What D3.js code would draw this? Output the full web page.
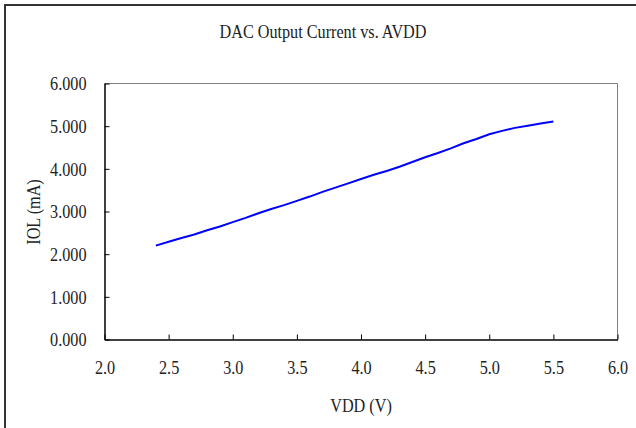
<!DOCTYPE html>
<html><head><meta charset="utf-8">
<script src="https://cdn.jsdelivr.net/npm/d3@7"></script>
<style>body{margin:0;background:#fff}svg{display:block}text{font-family:"Liberation Serif","Times New Roman",serif;fill:#222}</style>
</head><body><svg id="c" width="636" height="428"></svg>
<script>
const vdd = [2.4,2.5,2.6,2.7,2.8,2.9,3.0,3.1,3.2,3.3,3.4,3.5,3.6,3.7,3.8,3.9,4.0,4.1,4.2,4.3,4.4,4.5,4.6,4.7,4.8,4.9,5.0,5.1,5.2,5.3,5.4,5.5];
const iol = [2.20,2.29,2.38,2.46,2.56,2.65,2.75,2.85,2.96,3.06,3.15,3.25,3.35,3.46,3.56,3.66,3.76,3.86,3.95,4.05,4.16,4.27,4.37,4.48,4.60,4.70,4.81,4.89,4.96,5.01,5.06,5.11];
const xTicks = [2.0,2.5,3.0,3.5,4.0,4.5,5.0,5.5,6.0];
const yTicks = [0,1,2,3,4,5,6];
const title = "DAC Output Current vs. AVDD";
const xTitle = "VDD (V)";
const yTitle = "IOL (mA)";

const FS = 18, SX = 0.9;
const svg = d3.select("#c");
const L=104.5, R=617.5, T=83.5, B=339.5;
const x = d3.scaleLinear().domain([2,6]).range([L,R]);
const y = d3.scaleLinear().domain([0,6]).range([B,T]);

// outer frame (extends beyond right/bottom edge)
svg.append("rect").attr("x",5).attr("y",5).attr("width",700).attr("height",500)
  .attr("fill","none").attr("stroke","#333").attr("stroke-width",2);

// plot box
svg.append("path").attr("d",`M${L},${T}H${R}V${B}`).attr("fill","none").attr("stroke","#808080").attr("stroke-width",1);

const xa = svg.append("g").attr("transform",`translate(0,${B})`)
  .call(d3.axisBottom(x).tickValues(xTicks).tickSizeInner(-5).tickSizeOuter(0).tickPadding(22).tickFormat(d3.format(".1f")));
const ya = svg.append("g").attr("transform",`translate(${L},0)`)
  .call(d3.axisLeft(y).tickValues(yTicks).tickSizeInner(-5).tickSizeOuter(0).tickPadding(18).tickFormat(d3.format(".3f")));
[xa,ya].forEach(g=>{
  g.select(".domain").attr("stroke","#000").attr("stroke-width",1.5);
  g.selectAll(".tick line").attr("stroke","#000");
  g.selectAll("text").style("font-family",'"Liberation Serif",serif').style("font-size",FS+"px").attr("fill","#222");
});
xa.selectAll(".tick text").attr("transform",`scale(${SX},1)`);
ya.selectAll(".tick text").attr("dy","0.36em").each(function(){
  const ax = +d3.select(this).attr("x");
  d3.select(this).attr("transform",`translate(${ax},0) scale(${SX},1) translate(${-ax},0)`);
});

svg.append("path").datum(vdd.map((v,i)=>[v,iol[i]]))
  .attr("d",d3.line().x(d=>x(d[0])).y(d=>y(d[1])))
  .attr("fill","none").attr("stroke","#0000ff").attr("stroke-width",2);

function label(txt, cx, cy, rot){
  svg.append("text").attr("transform",`translate(${cx},${cy}) rotate(${rot||0}) scale(${SX},1)`)
    .attr("text-anchor","middle").style("font-size",FS+"px").text(txt);
}
label(title, 323, 38);
label(xTitle, 361, 412);
label(yTitle, 40, 212, -90);
</script></body></html>
